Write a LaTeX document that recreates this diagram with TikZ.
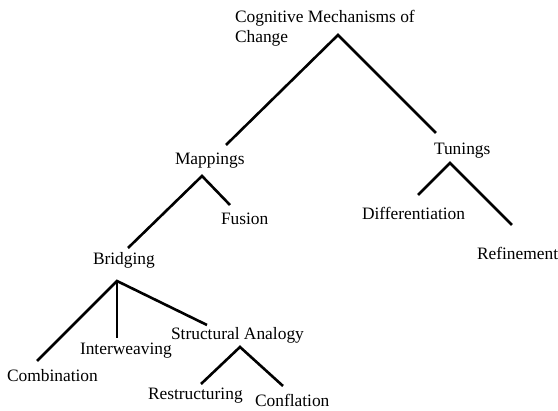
\documentclass[tikz,border=0pt]{standalone}
\usepackage{fontspec}
\setmainfont{Liberation Serif}
\begin{document}
\begin{tikzpicture}[x=1pt,y=-1pt,
  lbl/.style={inner sep=0pt,outer sep=0pt,anchor=base west,font=\fontsize{17.4}{20}\selectfont},
  conn/.style={line width=2.6pt,line join=miter}]
\useasboundingbox (0,0) rectangle (558,411);
\node[lbl,anchor=north west,align=left] (root) at (235,10) {Cognitive Mechanisms of\\Change};
\node[lbl] (map) at (175,165) {Mappings};
\node[lbl] (tun) at (434,155) {Tunings};
\node[lbl] (fus) at (221,225) {Fusion};
\node[lbl] (brid) at (93,265) {Bridging};
\node[lbl] (diff) at (362,220) {Differentiation};
\node[lbl] (ref) at (477,260) {Refinement};
\node[lbl] (comb) at (7,382) {Combination};
\node[lbl] (inter) at (80,355) {Interweaving};
\node[lbl] (sa) at (171,340) {Structural Analogy};
\node[lbl] (restr) at (148,400) {Restructuring};
\node[lbl] (confl) at (255,407) {Conflation};
% connectors
\draw[conn] ([shift={(51,-20)}]map.base west) -- ([shift={(103,25)}]root.north west) -- ([shift={(2,-22)}]tun.base west);
\draw[conn] ([shift={(35,-17)}]brid.base west) -- ([shift={(27,11)}]map.base west) -- ([shift={(9,-20)}]fus.base west);
\draw[conn] ([shift={(56,-25)}]diff.base west) -- ([shift={(16,8)}]tun.base west) -- ([shift={(35,-35)}]ref.base west);
\draw[conn] ([shift={(30,-21)}]comb.base west) -- ([shift={(24,16)}]brid.base west) -- ([shift={(36,-15)}]sa.base west);
\draw[conn] ([shift={(24,16)}]brid.base west) -- ([shift={(37,-17)}]inter.base west);
\draw[conn] ([shift={(53,-16)}]restr.base west) -- ([shift={(69,7)}]sa.base west) -- ([shift={(28,-21)}]confl.base west);
\end{tikzpicture}
\end{document}
